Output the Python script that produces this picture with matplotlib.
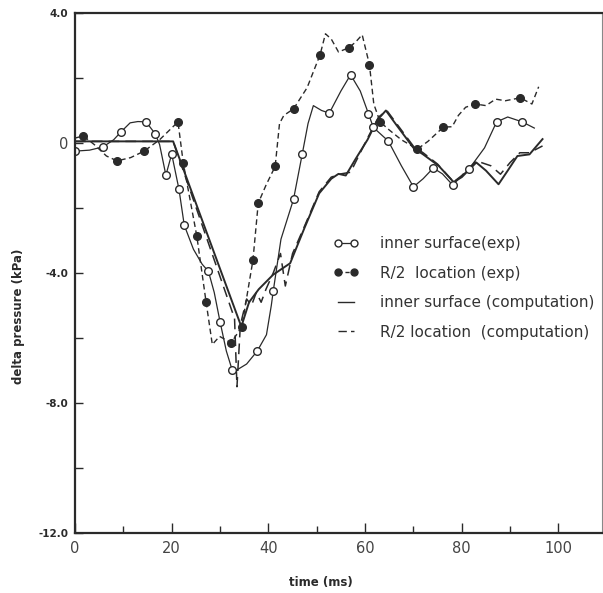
import numpy as np
import matplotlib
matplotlib.use('Agg')
import matplotlib.pyplot as plt
from matplotlib.lines import Line2D

# inner surface (exp): line points and circle positions
inner_exp_t = [0, 3, 5.8, 8, 9.5, 11.4, 13, 14.7, 16.6, 17.5, 18.8, 20.0, 21.5, 22.6, 24.5, 26.3, 27.6,
               28.8, 30.0, 31.3, 32.5, 33.3, 35.5, 37.7, 39.6, 40.6, 41.0, 42.6, 45.2, 47.0, 48.2, 49.3,
               51.0, 52.6, 55.0, 57.0, 59.0, 60.7, 61.7, 64.8, 67.5, 70.0, 72.0, 74.1, 76.0, 78.1,
               81.5, 84.7, 87.2, 89.5, 92.5, 95.0]
inner_exp_p = [-0.25, -0.22, -0.12, 0.1, 0.34, 0.62, 0.66, 0.65, 0.28, -0.05, -0.99, -0.34, -1.42, -2.53,
               -3.27, -3.73, -3.95, -4.6, -5.5, -6.4, -6.98, -7.0, -6.8, -6.4, -5.9, -5.0, -4.56, -2.96,
               -1.73, -0.34, 0.6, 1.15, 1.0, 0.92, 1.6, 2.1, 1.6, 0.9, 0.48, 0.06, -0.7, -1.35, -1.1,
               -0.77, -0.95, -1.29, -0.8, -0.15, 0.65, 0.8, 0.65, 0.46]
inner_exp_mark = [0, 2, 4, 7, 8, 10, 11, 12, 13, 16, 18, 20, 23, 26, 28, 29, 33, 35, 37, 38, 39, 41, 43,
                  45, 46, 48, 50]

# R/2 location (exp)
r2_exp_t = [0, 1.7, 4, 6.5, 8.7, 11.5, 14.3, 17.5, 21.3, 22.4, 25.2, 27.1, 28.4, 29.9, 32.3, 34.5,
            36.8, 37.9, 39.5, 41.4, 42.3, 43.2, 45.2, 48.0, 50.7, 51.8, 53.0, 54.5, 56.6, 58.0, 59.4,
            60.9, 61.8, 63.1, 65.0, 67.5, 70.8, 73.0, 76.2, 78.0, 79.3, 80.8, 82.8, 85.0, 87.0, 89.0,
            92.1, 94.5, 95.9]
r2_exp_p = [0.15, 0.22, -0.05, -0.4, -0.55, -0.45, -0.25, 0.1, 0.65, -0.62, -2.87, -4.88, -6.2, -5.95,
            -6.15, -5.65, -3.61, -1.85, -1.3, -0.72, 0.6, 0.85, 1.05, 1.7, 2.72, 3.36, 3.2, 2.8, 2.93,
            3.1, 3.33, 2.41, 1.2, 0.65, 0.4, 0.1, -0.19, 0.05, 0.49, 0.5, 0.85, 1.1, 1.2, 1.15, 1.35,
            1.3, 1.39, 1.2, 1.73]
r2_exp_mark = [1, 4, 6, 8, 9, 10, 11, 14, 15, 16, 17, 19, 22, 24, 28, 31, 33, 36, 38, 42, 46]

# inner surface (computation)
inner_comp_t = [0, 20.3, 34.4, 36.0, 38.0, 41.0, 44.5, 47.5, 50.5, 53.0, 54.5, 56.0, 58.0, 60.5, 62.5,
                64.3, 66.5, 70.0, 72.0, 75.2, 78.3, 80.0, 83.0, 85.0, 87.6, 89.5, 91.5, 94.0, 96.7]
inner_comp_p = [0.05, 0.05, -5.65, -4.9, -4.5, -4.05, -3.7, -2.6, -1.55, -1.1, -0.95, -1.0, -0.5, 0.1,
                0.7, 1.0, 0.55, -0.15, -0.35, -0.7, -1.2, -1.05, -0.6, -0.85, -1.27, -0.85, -0.4,
                -0.35, 0.12]

# R/2 location (computation)
r2_comp_t = [0, 20.3, 33.0, 33.5, 34.2, 35.5, 36.5, 37.5, 38.5, 39.5, 41.0, 42.5, 43.5, 45.0, 47.5,
             50.5, 53.0, 55.0, 57.0, 60.5, 62.8, 64.5, 66.5, 70.0, 72.0, 75.0, 78.3, 80.0, 83.0, 86.0,
             88.0, 90.0, 92.0, 94.0, 96.7]
r2_comp_p = [0.05, 0.05, -5.4, -7.5, -5.6, -4.8, -5.0, -4.6, -4.9, -4.5, -4.0, -3.4, -4.4, -3.4, -2.55,
             -1.5, -1.05, -0.95, -0.9, 0.15, 0.8, 1.0, 0.6, -0.1, -0.3, -0.65, -1.2, -1.0, -0.55, -0.7,
             -0.96, -0.6, -0.3, -0.3, -0.09]

labels = ['inner surface(exp)', 'R/2  location (exp)', 'inner surface (computation)',
          'R/2 location  (computation)']

ink = '#2a2a2a'

fig = plt.figure(figsize=(6.03, 5.93), dpi=100)
ax = fig.add_axes([75 / 603, 60 / 593, 527 / 603, 520 / 593])

ax.plot(inner_comp_t, inner_comp_p, color=ink, lw=1.4)
ax.plot(r2_comp_t, r2_comp_p, color=ink, lw=1.1, dashes=(7, 4))
ax.plot(inner_exp_t, inner_exp_p, color=ink, lw=0.9, marker='o', ms=5.5, mfc='white', mec=ink, mew=1.0,
        markevery=inner_exp_mark)
ax.plot(r2_exp_t, r2_exp_p, color=ink, lw=1.0, dashes=(4, 2.5), marker='o', ms=5.5, mfc=ink, mec=ink,
        markevery=r2_exp_mark)

ax.set_xlim(0, 109)
ax.set_ylim(-12, 4)
ax.set_xticks([0, 20, 40, 60, 80, 100])
ax.set_xticks([10, 30, 50, 70, 90], minor=True)
ax.set_yticks([-12, -8, -4, 0, 4])
ax.set_yticks([-10, -6, -2, 2], minor=True)
ax.set_yticklabels(['-12.0', '-8.0', '-4.0', '0', '4.0'])

ax.tick_params(axis='both', which='both', direction='in', color=ink)
ax.tick_params(axis='x', which='major', length=7, width=1.0, pad=6, labelsize=10.5, labelcolor='#444444')
ax.tick_params(axis='x', which='minor', length=5, width=1.0)
ax.tick_params(axis='y', which='both', length=6, width=1.0, pad=5, labelsize=7.5, labelcolor=ink)
for lab in ax.get_yticklabels():
    if lab.get_text() == '0':
        lab.set_fontsize(10.5)
        lab.set_color('#444444')
    else:
        lab.set_fontweight('bold')

for side in ['left', 'bottom', 'top']:
    ax.spines[side].set_linewidth(1.6)
    ax.spines[side].set_color(ink)
ax.spines['right'].set_linewidth(0.8)
ax.spines['right'].set_color('#888888')

ax.set_xlabel('time (ms)', fontsize=8.5, fontweight='bold', color=ink)
ax.xaxis.set_label_coords((321 - 75) / 527, -(576 - 533) / 520)
ax.set_ylabel('delta pressure (kPa)', fontsize=8.5, fontweight='bold', color=ink)
ax.yaxis.set_label_coords(-(75 - 25) / 527, (533 - 316) / 520)

handles = [
    Line2D([], [], color=ink, lw=0.9, marker='o', ms=5, mfc='white', mec=ink),
    Line2D([], [], color=ink, lw=1.0, dashes=(3, 2), marker='o', ms=5, mfc=ink, mec=ink),
    Line2D([], [], color=ink, lw=1.0),
    Line2D([], [], color=ink, lw=1.0, dashes=(6, 3)),
]
leg = ax.legend(handles, labels, loc='upper left', bbox_to_anchor=((333 - 75) / 527, (533 - 236) / 520),
                frameon=False, numpoints=2, fontsize=11, handlelength=1.7, handletextpad=1.4,
                labelspacing=0.95, borderpad=0, borderaxespad=0)
for t in leg.get_texts():
    t.set_color('#333333')

fig.savefig('out.png', dpi=100)
